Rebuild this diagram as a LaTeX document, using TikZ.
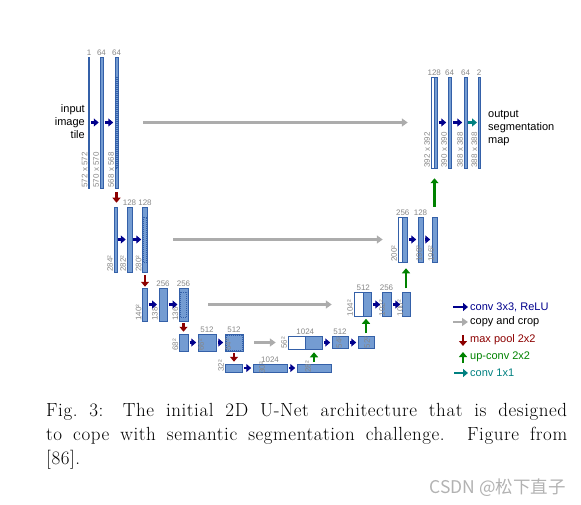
\documentclass[tikz,border=0pt]{standalone}
\usepackage{fontspec}
\newfontfamily\labelfont{Liberation Sans}
\newfontfamily\cjkfont{Noto Sans CJK SC}
\newfontfamily\capfont[LetterSpace=3]{Latin Modern Roman}
\usetikzlibrary{arrows.meta}
\definecolor{barblue}{RGB}{116,156,210}
\definecolor{bardark}{RGB}{52,96,168}
\definecolor{convblue}{RGB}{0,0,140}
\definecolor{copygray}{RGB}{172,172,172}
\definecolor{poolred}{RGB}{140,0,0}
\definecolor{upgreen}{RGB}{0,130,0}
\definecolor{outteal}{RGB}{0,128,128}
\definecolor{dimgray}{RGB}{135,135,135}
\begin{document}
\begin{tikzpicture}[x=1pt, y=-1pt,
  bar/.style 2 args={draw=bardark, fill=barblue, line width=0.5pt, inner sep=0pt, minimum width=#1pt, minimum height=#2pt},
  catbar/.style 2 args={bar={#1}{#2}, fill=white},
  cropline/.style={draw=bardark, line width=0.4pt, dash pattern=on 1pt off 1pt},
  chanlabel/.style={font=\labelfont\fontsize{8}{8}\selectfont, text=dimgray, anchor=south, inner sep=1pt},
  dimlabel/.style={font=\labelfont\fontsize{8}{8}\selectfont, text=dimgray, rotate=90, anchor=south west, inner sep=0.5pt},
  convarrow/.style={draw=convblue, line width=2.6pt, -{Triangle[length=5pt,width=8pt]}},
  copyarrow/.style={draw=copygray, line width=2.8pt, -{Triangle[length=6pt,width=8pt]}},
  poolarrow/.style={draw=poolred, line width=2.6pt, -{Triangle[length=5pt,width=8pt]}},
  uparrow/.style={draw=upgreen, line width=2.6pt, -{Triangle[length=5pt,width=8pt]}},
  outarrow/.style={draw=outteal, line width=2.6pt, -{Triangle[length=5pt,width=8pt]}},
  legend/.style={font=\labelfont\fontsize{11}{12}\selectfont, anchor=west, inner sep=0pt}]
  \useasboundingbox (0,0) rectangle (581,505);
  % contracting path
  \node[bar={1}{131}] (in1) at (89,122.5) {};
  \node[bar={3}{131}] (c11) at (101.5,122.5) {};
  \node[bar={3}{131}] (c12) at (116.5,122.5) {};
  \node[bar={3}{65}] (c21) at (115.5,239.5) {};
  \node[bar={5}{65}] (c22) at (129.5,239.5) {};
  \node[bar={5}{65}] (c23) at (145,239.5) {};
  \node[bar={5}{33}] (c31) at (145,304.5) {};
  \node[bar={8.5}{33}] (c32) at (163,304.5) {};
  \node[bar={8.5}{33}] (c33) at (183.5,304.5) {};
  \node[bar={8.5}{17}] (c41) at (183.5,342.5) {};
  \node[bar={18}{17}] (c42) at (207,342.5) {};
  \node[bar={18}{17}] (c43) at (234,342.5) {};
  \node[bar={17}{8}] (c51) at (233.5,368) {};
  \node[bar={34}{8}] (c52) at (270,368) {};
  \node[bar={34}{8}] (c53) at (314,368) {};
  \draw[cropline] ([shift={(1,20.5)}]c12.north west) rectangle ([shift={(-1,-20.5)}]c12.south east);
  \draw[cropline] ([shift={(1.2,10)}]c23.north west) rectangle ([shift={(-1.2,-10)}]c23.south east);
  \draw[cropline] ([shift={(1.5,4)}]c33.north west) rectangle ([shift={(-1.5,-4)}]c33.south east);
  \draw[cropline] ([shift={(1.5,1.5)}]c43.north west) rectangle ([shift={(-1.5,-1.5)}]c43.south east);
  % expanding path
  \node[catbar={17}{13}] (e4w) at (296.5,342.5) {};
  \node[bar={17}{13}] (e4u) at (313.5,342.5) {};
  \node[bar={16}{12}] (e42) at (340,342.5) {};
  \node[bar={16}{12}] (e43) at (366,342.5) {};
  \node[catbar={9}{24}] (e3w) at (358.5,304.5) {};
  \node[bar={8}{24}] (e3u) at (367,304.5) {};
  \node[bar={9}{24}] (e32) at (386.5,304.5) {};
  \node[bar={8}{24}] (e33) at (406,304.5) {};
  \node[catbar={4.5}{45}] (e2w) at (400.25,239.5) {};
  \node[bar={4.5}{45}] (e2u) at (404.75,239.5) {};
  \node[bar={5}{45}] (e22) at (420.5,239.5) {};
  \node[bar={5}{45}] (e23) at (434.5,239.5) {};
  \node[catbar={3}{91}] (e1w) at (432.5,122.5) {};
  \node[bar={3}{91}] (e1u) at (435.5,122.5) {};
  \node[bar={3}{91}] (e12) at (449.5,122.5) {};
  \node[bar={3}{91}] (e13) at (465.5,122.5) {};
  \node[bar={1.5}{91}] (out) at (479,122.5) {};
  % channels
  \node[chanlabel] (n11) at (in1.north) {1};
  \node[chanlabel] (n12) at (c11.north) {64};
  \node[chanlabel] (n13) at (c12.north) {64};
  \node[chanlabel] (n22) at (c22.north) {128};
  \node[chanlabel] (n23) at (c23.north) {128};
  \node[chanlabel] (n32) at (c32.north) {256};
  \node[chanlabel] (n33) at (c33.north) {256};
  \node[chanlabel] (n42) at (c42.north) {512};
  \node[chanlabel] (n43) at (c43.north) {512};
  \node[chanlabel] (n52) at (c52.north) {1024};
  \node[chanlabel] (m41) at (e4w.north east) {1024};
  \node[chanlabel] (m42) at (e42.north) {512};
  \node[chanlabel] (m31) at (e3w.north east) {512};
  \node[chanlabel] (m32) at (e32.north) {256};
  \node[chanlabel] (m21) at (e2w.north east) {256};
  \node[chanlabel] (m22) at (e22.north) {128};
  \node[chanlabel] (m11) at (e1w.north east) {128};
  \node[chanlabel] (m12) at (e12.north) {64};
  \node[chanlabel] (m13) at (e13.north) {64};
  \node[chanlabel] (m14) at (out.north) {2};
  % sizes
  \node[dimlabel] (d11) at (in1.south west) {572 x 572};
  \node[dimlabel] (d12) at (c11.south west) {570 x 570};
  \node[dimlabel] (d13) at (c12.south west) {568 x 568};
  \node[dimlabel] (d21) at (c21.south west) {284²};
  \node[dimlabel] (d22) at (c22.south west) {282²};
  \node[dimlabel] (d23) at (c23.south west) {280²};
  \node[dimlabel] (d31) at (c31.south west) {140²};
  \node[dimlabel] (d32) at (c32.south west) {138²};
  \node[dimlabel] (d33) at (c33.south west) {136²};
  \node[dimlabel] (d41) at (c41.south west) {68²};
  \node[dimlabel, yshift=-7pt] (d42) at (c42.south west) {66²};
  \node[dimlabel, yshift=-7pt] (d43) at (c43.south west) {64²};
  \node[dimlabel] (d51) at (c51.south west) {32²};
  \node[dimlabel, xshift=-2pt, yshift=-13pt] (d52) at (c52.south west) {30²};
  \node[dimlabel, xshift=-1pt, yshift=-15pt] (d53) at (c53.south west) {28²};
  \node[dimlabel] (f41) at (e4w.south west) {56²};
  \node[dimlabel, yshift=-11pt] (f42) at (e42.south west) {54²};
  \node[dimlabel, yshift=-13pt] (f43) at (e43.south west) {52²};
  \node[dimlabel] (f31) at (e3w.south west) {104²};
  \node[dimlabel, yshift=-4pt] (f32) at (e32.south west) {102²};
  \node[dimlabel, yshift=-2pt] (f33) at (e33.south west) {100²};
  \node[dimlabel] (f21) at (e2w.south west) {200²};
  \node[dimlabel, yshift=-5pt] (f22) at (e22.south west) {198²};
  \node[dimlabel, yshift=-3pt] (f23) at (e23.south west) {196²};
  \node[dimlabel] (f11) at (e1w.south west) {392 x 392};
  \node[dimlabel] (f12) at (e12.south west) {390 x 390};
  \node[dimlabel] (f13) at (e13.south west) {388 x 388};
  \node[dimlabel] (f14) at (out.south west) {388 x 388};
  % conv 3x3
  \draw[convarrow, shorten <=1.5pt, shorten >=1pt] (in1) -- (c11);
  \draw[convarrow, shorten <=1.5pt, shorten >=1.5pt] (c11) -- (c12);
  \draw[convarrow, shorten <=1pt, shorten >=1pt] (c21) -- (c22);
  \draw[convarrow, shorten <=1pt, shorten >=1pt] (c22) -- (c23);
  \draw[convarrow, shorten <=1.5pt, shorten >=1.5pt] (c31) -- (c32);
  \draw[convarrow, shorten <=1.5pt, shorten >=1.5pt] (c32) -- (c33);
  \draw[convarrow, shorten <=1.5pt, shorten >=1.5pt] (c41) -- (c42);
  \draw[convarrow, shorten <=1.5pt, shorten >=1.5pt] (c42) -- (c43);
  \draw[convarrow, shorten <=1.5pt, shorten >=1.5pt] (c51) -- (c52);
  \draw[convarrow, shorten <=1.5pt, shorten >=1.5pt] (c52) -- (c53);
  \draw[convarrow, shorten <=1.5pt, shorten >=1.5pt] (e4u) -- (e42);
  \draw[convarrow, shorten <=1.5pt, shorten >=1.5pt] (e42) -- (e43);
  \draw[convarrow, shorten <=1.5pt, shorten >=1.5pt] (e3u) -- (e32);
  \draw[convarrow, shorten <=1.5pt, shorten >=1.5pt] (e32) -- (e33);
  \draw[convarrow, shorten <=1.5pt, shorten >=1.5pt] (e2u) -- (e22);
  \draw[convarrow, shorten <=1.5pt, shorten >=1.5pt] (e22) -- (e23);
  \draw[convarrow, shorten <=1.5pt, shorten >=1.5pt] (e1u) -- (e12);
  \draw[convarrow, shorten <=1.5pt, shorten >=1.5pt] (e12) -- (e13);
  \draw[outarrow, shorten <=1pt, shorten >=1pt] (e13) -- (out);
  % copy and crop
  \draw[copyarrow, shorten <=25pt, shorten >=23pt] (c12) -- (e1w);
  \draw[copyarrow, shorten <=25.5pt, shorten >=15pt] (c23) -- (e2w);
  \draw[copyarrow, shorten <=20pt, shorten >=22pt] (c33) -- (e3w);
  \draw[copyarrow, shorten <=11pt, shorten >=12pt] (c43) -- (e4w);
  % max pool
  \draw[poolarrow, shorten <=4pt, shorten >=4pt] (c12.south) -- (c12.south |- c21.north);
  \draw[poolarrow, shorten <=3pt, shorten >=1pt] (c23.south) -- (c23.south |- c31.north);
  \draw[poolarrow, shorten <=2pt, shorten >=2pt] (c33.south) -- (c33.south |- c41.north);
  \draw[poolarrow, shorten <=2pt, shorten >=2pt] (c43.south) -- (c43.south |- c51.north);
  % up-conv
  \draw[uparrow, shorten <=2pt, shorten >=3pt] (c53.north) -- (c53.north |- e4u.south);
  \draw[uparrow, shorten <=3pt, shorten >=2pt] (e43.north) -- (e43.north |- e3u.south);
  \draw[uparrow, shorten <=4pt, shorten >=6pt] (e33.north) -- (e33.north |- e2u.south);
  \draw[uparrow, shorten <=10pt, shorten >=10pt] (e23.north) -- (e23.north |- e1u.south);
  % texts
  \node[font=\labelfont\fontsize{11}{13}\selectfont, align=right, anchor=east, inner sep=0pt] (intxt) at (85,122) {input\\image\\tile};
  \node[font=\labelfont\fontsize{11}{13}\selectfont, align=left, anchor=west, inner sep=0pt] (outtxt) at (488,128) {output\\segmentation\\map};
  % legend
  \node[legend, text=convblue] (lg1) at (470,307) {conv 3x3, ReLU};
  \node[legend] (lg2) at (470,322) {copy and crop};
  \node[legend, text=poolred] (lg3) at (470,340) {max pool 2x2};
  \node[legend, text=upgreen] (lg4) at (470,357) {up-conv 2x2};
  \node[legend, text=outteal] (lg5) at (470,373) {conv 1x1};
  \draw[convarrow] ([xshift=-17pt]lg1.west) -- ([xshift=-2pt]lg1.west);
  \draw[copyarrow] ([xshift=-17pt]lg2.west) -- ([xshift=-2pt]lg2.west);
  \draw[poolarrow] ([xshift=-7pt,yshift=5pt]lg3.west) -- ([xshift=-7pt,yshift=-6pt]lg3.west);
  \draw[uparrow] ([xshift=-7pt,yshift=-6pt]lg4.west) -- ([xshift=-7pt,yshift=5pt]lg4.west);
  \draw[outarrow] ([xshift=-16pt]lg5.west) -- ([xshift=-2pt]lg5.west);
  % caption
  \node[anchor=north west, inner sep=0pt, text width=521pt, align=justify, font=\capfont\fontsize{19}{24}\selectfont] (cap) at (46,403) {Fig.~3: The initial 2D U-Net architecture that is designed\linebreak{} to cope with semantic segmentation challenge. Figure from\linebreak{} {[86].}};
  \node[font=\cjkfont\fontsize{17.5}{17.5}\selectfont, text=gray!60, anchor=base east, inner sep=0pt] (mark) at (566,493) {CSDN @松下直子};
\end{tikzpicture}
\end{document}
